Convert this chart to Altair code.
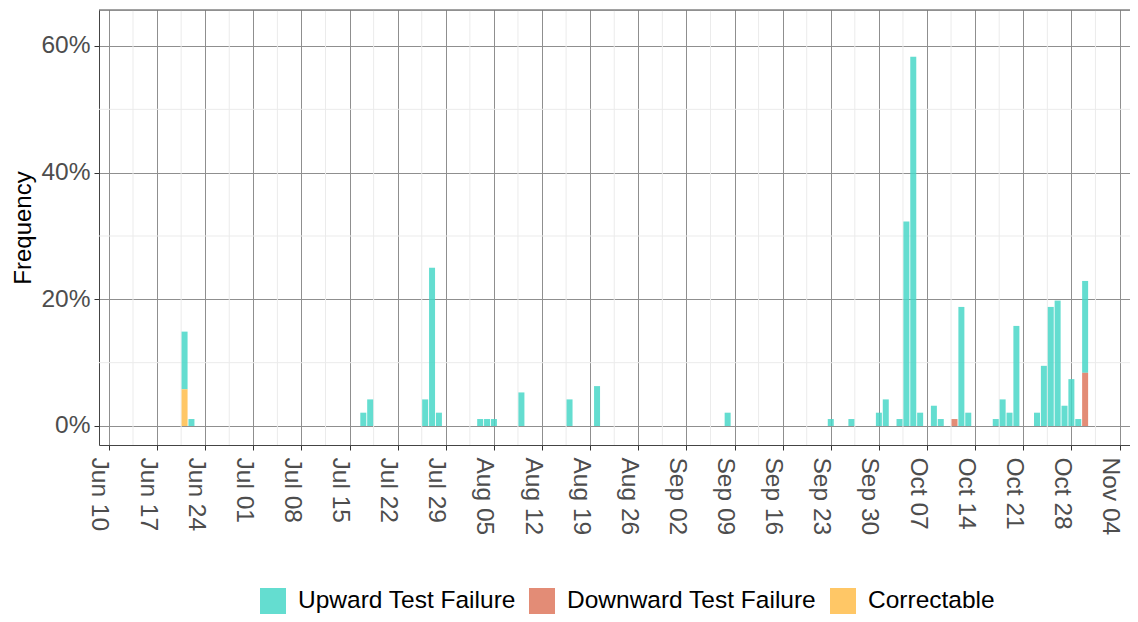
import altair as alt
import pandas as pd

# ---- data (percent) ----
upward_dates = ["2019-06-21", "2019-06-22", "2019-07-17", "2019-07-18", "2019-07-26", "2019-07-27",
                "2019-07-28", "2019-08-03", "2019-08-04", "2019-08-05", "2019-08-09", "2019-08-16",
                "2019-08-20", "2019-09-08", "2019-09-23", "2019-09-26", "2019-09-30", "2019-10-01",
                "2019-10-03", "2019-10-04", "2019-10-05", "2019-10-06", "2019-10-08", "2019-10-09",
                "2019-10-12", "2019-10-13", "2019-10-17", "2019-10-18", "2019-10-19", "2019-10-20",
                "2019-10-23", "2019-10-24", "2019-10-25", "2019-10-26", "2019-10-27", "2019-10-28",
                "2019-10-29", "2019-10-30"]
upward_values = [9.1, 1.1, 2.1, 4.2, 4.2, 25.0, 2.1, 1.1, 1.1, 1.1, 5.3, 4.2,
                 6.3, 2.1, 1.1, 1.1, 2.1, 4.2, 1.1, 32.3, 58.3, 2.1, 3.2, 1.1,
                 18.8, 2.1, 1.1, 4.2, 2.1, 15.8, 2.1, 9.5, 18.8, 19.8, 3.2, 7.4,
                 1.1, 14.5]
downward_dates = ["2019-10-11", "2019-10-30"]
downward_values = [1.1, 8.4]
correctable_dates = ["2019-06-21"]
correctable_values = [5.8]

categories = ["Upward Test Failure", "Downward Test Failure", "Correctable"]
colors = ["#49D7C8", "#DE785E", "#FFBD4B"]
stack_rank = [2, 1, 1]

tick_dates = ["2019-06-10", "2019-06-17", "2019-06-24", "2019-07-01", "2019-07-08", "2019-07-15",
              "2019-07-22", "2019-07-29", "2019-08-05", "2019-08-12", "2019-08-19", "2019-08-26",
              "2019-09-02", "2019-09-09", "2019-09-16", "2019-09-23", "2019-09-30", "2019-10-07",
              "2019-10-14", "2019-10-21", "2019-10-28", "2019-11-04"]
minor_dates = ["2019-06-13T12:00:00", "2019-06-20T12:00:00", "2019-06-27T12:00:00", "2019-07-04T12:00:00",
               "2019-07-11T12:00:00", "2019-07-18T12:00:00", "2019-07-25T12:00:00", "2019-08-01T12:00:00",
               "2019-08-08T12:00:00", "2019-08-15T12:00:00", "2019-08-22T12:00:00", "2019-08-29T12:00:00",
               "2019-09-05T12:00:00", "2019-09-12T12:00:00", "2019-09-19T12:00:00", "2019-09-26T12:00:00",
               "2019-10-03T12:00:00", "2019-10-10T12:00:00", "2019-10-17T12:00:00", "2019-10-24T12:00:00",
               "2019-10-31T12:00:00"]
y_ticks = [0.0, 0.2, 0.4, 0.6]
y_minor = [0.1, 0.3, 0.5]

# ---- build table ----
rows = []
for cat, dates, vals in [(categories[0], upward_dates, upward_values),
                         (categories[1], downward_dates, downward_values),
                         (categories[2], correctable_dates, correctable_values)]:
    for d, v in zip(dates, vals):
        rows.append({"date": d + "T00:00:00", "freq": v / 100.0, "type": cat,
                     "rank": stack_rank[categories.index(cat)]})
df = pd.DataFrame(rows)


def dt(s, h=0, m=0):
    y, mo, d = [int(p) for p in s[:10].split("-")]
    return alt.DateTime(year=y, month=mo, date=d, hours=h, minutes=m)


W, H = 1031, 435
FONT = "Liberation Sans"
FS = 24.5

xscale = alt.Scale(domain=[dt("2019-06-09", 6, 43), dt("2019-11-04", 19, 12)])
yscale = alt.Scale(domain=[-0.030, 0.6568], nice=False, zero=False)

bars = alt.Chart(df).mark_bar(size=6, opacity=0.85).encode(
    x=alt.X("date:T", scale=xscale,
            axis=alt.Axis(values=[dt(t) for t in tick_dates], format="%b %d", labelAngle=90,
                          labelAlign="left", labelBaseline="top", labelFontSize=FS, labelFont=FONT,
                          labelColor="#4d4d4d", tickSize=5, tickColor="#333333", labelPadding=7,
                          labelOffset=2,
                          grid=True, gridColor="#8f8f8f", domainColor="#444444", title=None,
                          labelOverlap=False, labelFlush=False)),
    y=alt.Y("freq:Q", scale=yscale, stack="zero",
            axis=alt.Axis(values=y_ticks, format=".0%", labelFontSize=FS, labelFont=FONT,
                          labelColor="#4d4d4d", tickSize=5, tickColor="#333333", labelPadding=4,
                          grid=True, gridColor="#8f8f8f", domainColor="#444444",
                          title="Frequency", titleFontSize=24, titleFont=FONT, titleColor="black",
                          titleFontWeight="normal", titlePadding=5)),
    color=alt.Color("type:N", scale=alt.Scale(domain=categories, range=colors),
                    legend=alt.Legend(title=None, orient="none", legendX=161, legendY=578,
                                      direction="horizontal", symbolType="square", symbolSize=676,
                                      symbolStrokeWidth=0, symbolOpacity=0.85, labelFontSize=FS,
                                      labelFont=FONT, labelColor="black", labelOffset=12,
                                      labelLimit=500, columnPadding=13, padding=0)),
    order=alt.Order("rank:Q"),
)

minor_x = alt.Chart(pd.DataFrame({"d": minor_dates})).mark_rule(color="#ebebeb", strokeWidth=1).encode(
    x=alt.X("d:T", scale=xscale))
minor_y = alt.Chart(pd.DataFrame({"v": y_minor})).mark_rule(color="#ebebeb", strokeWidth=1).encode(
    y=alt.Y("v:Q", scale=yscale))
top_border = alt.Chart(pd.DataFrame({"a": [0]})).mark_rule(color="#444444", strokeWidth=1).encode(
    x=alt.value(0), x2=alt.value(W), y=alt.value(0))

chart = alt.layer(minor_x, minor_y, bars, top_border).properties(
    width=W, height=H,
    autosize=alt.AutoSizeParams(type="none"),
    padding={"left": 91, "top": 2, "right": 0, "bottom": 169},
).configure_view(stroke=None).configure(background="white")

chart.save("out.html", embed_options={"renderer": "svg", "actions": False})
